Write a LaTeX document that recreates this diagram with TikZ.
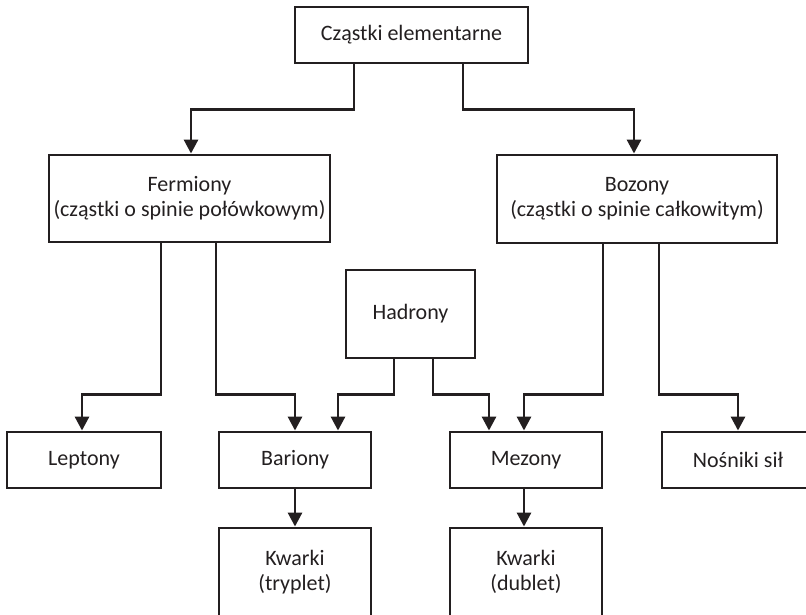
\documentclass[tikz,border=0pt]{standalone}
\usepackage{fontspec}
\setmainfont{Carlito}
\usetikzlibrary{arrows.meta}
\definecolor{ink}{HTML}{231F20}
\begin{document}
\begin{tikzpicture}[x=1pt,y=-1pt,
  box/.style={draw=ink,line width=2.9pt,align=center,inner sep=0pt,
    font=\fontsize{22}{25}\selectfont,text=ink},
  arr/.style={draw=ink,line width=2.9pt,-{Triangle[width=14pt,length=14pt]}}]
\useasboundingbox (0,0) rectangle (806,614);
\clip (0,0) rectangle (806,614);
\node[box,minimum width=233pt,minimum height=56pt] (top) at (411.5,35) {Cząstki elementarne};
\node[box,minimum width=281pt,minimum height=87pt] (ferm) at (189.5,198.5) {Fermiony\\(cząstki o spinie połówkowym)};
\node[box,minimum width=280pt,minimum height=88pt] (boz) at (637,199) {Bozony\\(cząstki o spinie całkowitym)};
\node[box,minimum width=129pt,minimum height=88pt] (had) at (410.5,314) {Hadrony};
\node[box,minimum width=154pt,minimum height=56pt] (lep) at (84,460) {Leptony};
\node[box,minimum width=152pt,minimum height=56pt] (bar) at (295,460) {Bariony};
\node[box,minimum width=152pt,minimum height=56pt] (mez) at (526,460) {Mezony};
\node[box,minimum width=152pt,minimum height=56pt] (nos) at (738,460) {Nośniki sił};
\node[box,minimum width=152pt,minimum height=88pt] (kw1) at (295,572) {Kwarki\\(tryplet)};
\node[box,minimum width=152pt,minimum height=88pt] (kw2) at (526,572) {Kwarki\\(dublet)};
\draw[arr] ([xshift=-57.5pt]top.south) -- ++(0,45) -| ([xshift=1.5pt]ferm.north);
\draw[arr] ([xshift=51.5pt]top.south) -- ++(0,45) -| ([xshift=-3pt]boz.north);
\draw[arr] ([xshift=-28.5pt]ferm.south) -- ++(0,151) -| ([xshift=-2pt]lep.north);
\draw[arr] ([xshift=26.5pt]ferm.south) -- ++(0,151) -| (bar.north);
\draw[arr] ([xshift=-16.5pt]had.south) -- ++(0,35) -| ([xshift=43pt]bar.north);
\draw[arr] ([xshift=22.5pt]had.south) -- ++(0,35) -| ([xshift=-37pt]mez.north);
\draw[arr] ([xshift=-34pt]boz.south) -- ++(0,150) -| ([xshift=-2pt]mez.north);
\draw[arr] ([xshift=22pt]boz.south) -- ++(0,150) -| (nos.north);
\draw[arr] (bar.south) -- (kw1.north);
\draw[arr] ([xshift=-2pt]mez.south) -- ([xshift=-2pt]kw2.north);
\end{tikzpicture}
\end{document}
